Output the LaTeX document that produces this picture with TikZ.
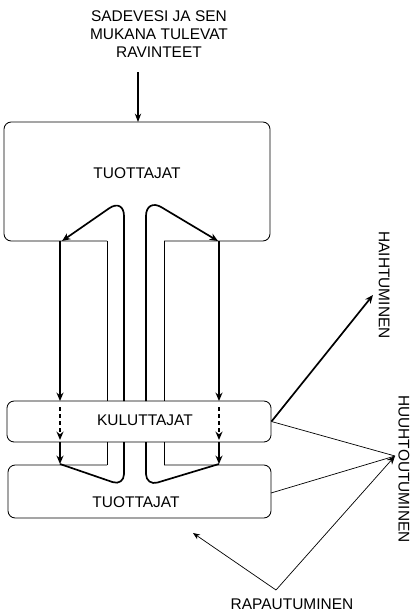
\documentclass[tikz,border=0pt]{standalone}
\usepackage{fontspec}
\setmainfont{Liberation Sans}
\usetikzlibrary{arrows.meta}

\tikzset{
  wall/.style={line width=0.6pt},
  flow/.style={line width=1.2pt, -{Stealth[length=6pt,width=5pt]}},
  back/.style={line width=1.2pt, rounded corners=3mm},
  loss/.style={line width=0.5pt},
  lbl/.style={font=\fontsize{11}{12.8}\selectfont, inner sep=0},
}

\begin{document}
\begin{tikzpicture}[x=0.025cm, y=-0.025cm]
    % pixel grid of the scan, y runs downwards
    \useasboundingbox (0,0) rectangle (413,613);

    % --- rain input ---
    \node[lbl, align=center, anchor=north] (rain) at (159,10)
      {SADEVESI JA SEN\\MUKANA TULEVAT\\RAVINTEET};
    \coordinate (rain end) at (138,72);
    \coordinate (rain in) at (138,122);
    \draw[line width=0.8pt, -{Stealth[length=6pt,width=4.5pt]}] (rain end) -- (rain in);

    % --- upper producers, open at the stem ---
    \draw[wall, rounded corners=1.8mm] (107,241) -- (4,241) -- (4,122)
      -- (270,122) -- (270,241) -- (164,241);
    \node[lbl] (prod top) at (137,173) {TUOTTAJAT};
    \draw[wall] (107,241) -- (107,401);
    \draw[wall] (164,241) -- (164,401);

    % --- consumers ---
    \node[wall, draw, rounded corners=1.8mm, minimum width=6.6cm,
          minimum height=1.025cm] (cons) at (139,421.5) {};
    \node[lbl] (cons text) at (145,420) {KULUTTAJAT};

    % --- lower producers ---
    \draw[wall] (107,442) -- (107,465);
    \draw[wall] (164,442) -- (164,465);
    \draw[wall, rounded corners=1.8mm] (107,465) -- (8,465) -- (8,518)
      -- (271,518) -- (271,465) -- (164,465);
    \node[lbl] (prod low) at (136,502) {TUOTTAJAT};
    \coordinate (low east) at (271,493);

    % --- nutrient loops, left and right ---
    \foreach \xo/\xs/\xt in {60/124/62, 219/146/218} {
      \draw[flow, rounded corners=4.5mm] (\xs,401) -- (\xs,198) -- (\xt,241);
      \draw[flow] (\xo,241) -- (\xo,401);
      \draw[flow, dash pattern=on 3pt off 2pt] (\xo,407) -- (\xo,440);
      \draw[flow] (\xo,442) -- (\xo,464);
      \draw[back] (\xo,464) -- (\xs,486) -- (\xs,442);
    }

    % --- losses ---
    \node[lbl, rotate=-90] (evap) at (384,285) {HAIHTUMINEN};
    \node[lbl, rotate=-90] (leach text) at (404,469) {HUUHTOUTUMINEN};
    \node[lbl] (weath text) at (292,604) {RAPAUTUMINEN};
    \coordinate (evap in) at (373,295);
    \coordinate (leach) at (395,456);
    \coordinate (weath) at (276,590);
    \coordinate (rock) at (193,533);

    \draw[flow] (cons.east) -- (evap in);
    \draw[loss] (cons.east) -- (leach);
    \draw[loss] (low east) -- (leach);
    \draw[loss, -{Stealth[length=6pt,width=5pt]}] (weath) -- (leach);
    \draw[loss, -{Stealth[length=5pt,width=4pt]}] (weath) -- (rock);
\end{tikzpicture}
\end{document}
